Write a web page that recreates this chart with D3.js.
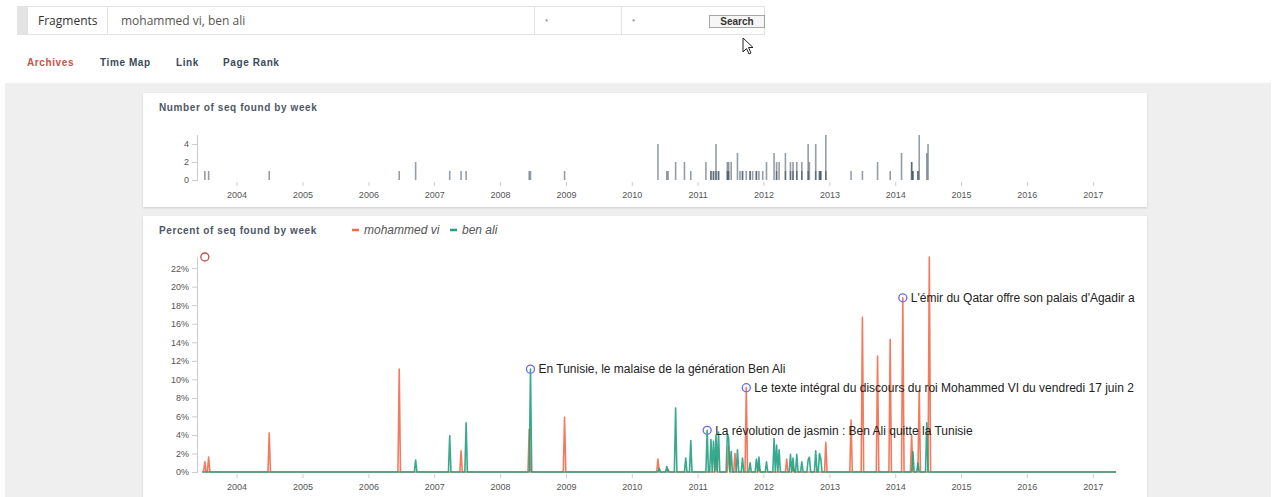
<!DOCTYPE html>
<html>
<head>
<meta charset="utf-8">
<script src="https://cdn.jsdelivr.net/npm/d3@7"></script>
<style>
  html, body { margin: 0; padding: 0; background: #fff; }
  svg { display: block; font-family: "Liberation Sans", Arial, sans-serif; }
  .axis text { fill: #555; font-size: 9px; }
  .axis line { stroke: #ccc; }
  .axis path { stroke: #ccc; }
  .title { font-size: 10px; font-weight: bold; fill: #4d5766; letter-spacing: 0.6px; }
  .tab { font-size: 10px; font-weight: bold; letter-spacing: 0.6px; fill: #3b4a5a; }
</style>
</head>
<body>
<svg id="page" width="1276" height="497"></svg>
<script>
// weekly counts of matching sequences, one list per search term
const countMohammed = [
  ["2003-07-10",1],["2003-07-29",1],["2004-07-01",1],["2006-06-23",1],["2007-05-31",1],
  ["2008-06-08",1],["2008-12-24",1],["2010-05-26",4],["2010-07-20",1],["2011-03-18",1],
  ["2011-03-31",1],["2011-04-13",1],["2011-04-26",1],["2011-06-13",1],["2011-06-24",1],
  ["2011-09-09",1],["2011-09-28",1],["2011-10-16",1],["2011-11-22",1],["2012-03-16",1],
  ["2012-05-01",3],["2012-05-29",1],["2012-06-12",1],["2012-07-01",1],["2012-07-29",1],
  ["2012-09-04",1],["2012-10-20",1],["2012-11-04",1],["2012-11-17",1],["2012-12-11",5],
  ["2013-05-03",1],["2013-07-06",1],["2013-09-27",2],["2013-12-07",1],["2014-02-08",3],
  ["2014-04-04",2],["2014-04-11",1],["2014-05-04",1],["2014-05-16",5],["2014-07-05",4]
];
const countBenAli = [
  ["2006-09-18",2],["2007-03-31",1],["2007-06-28",1],["2008-06-19",1],["2010-07-11",1],
  ["2010-08-30",2],["2010-10-21",2],["2010-11-27",1],["2011-02-18",2],["2011-03-18",1],
  ["2011-03-31",1],["2011-04-13",4],["2011-04-26",1],["2011-06-13",2],["2011-06-24",2],
  ["2011-07-07",2],["2011-08-07",3],["2011-08-22",1],["2011-09-09",1],["2011-10-16",1],
  ["2011-11-03",1],["2011-11-22",1],["2011-12-10",1],["2011-12-28",1],["2012-01-16",2],
  ["2012-03-03",3],["2012-03-16",2],["2012-03-31",2],["2012-05-01",1],["2012-05-29",2],
  ["2012-06-12",2],["2012-07-01",2],["2012-07-29",2],["2012-09-04",4],["2012-09-13",2],
  ["2012-10-20",4],["2012-11-04",1],["2012-11-17",1],["2012-12-11",1],["2014-04-04",2],
  ["2014-04-11",1],["2014-05-04",1],["2014-06-28",3]
];

// weekly percent of sequences (weeks not listed are 0)
const pctMohammed = [
  ["2003-07-10",1.1],["2003-07-29",1.6],["2004-07-01",4.2],["2006-06-23",11.1],["2007-05-31",2.3],
  ["2008-06-08",4.6],["2008-12-24",5.9],["2010-05-26",1.4],["2010-07-20",0.3],["2011-04-13",1.6],
  ["2011-06-24",2.8],["2011-07-30",2.0],["2011-09-30",9.1],["2011-12-10",0.6],["2012-05-09",1.4],
  ["2012-06-12",0.5],["2012-12-11",3.2],["2013-05-03",5.6],["2013-07-06",16.7],["2013-09-27",12.5],
  ["2013-12-07",14.3],["2014-02-10",18.8],["2014-04-04",4.0],["2014-05-16",8.8],["2014-07-12",23.2]
];
const pctBenAli = [
  ["2006-09-18",1.3],["2007-03-31",3.9],["2007-06-28",5.3],["2008-06-19",11.1],["2010-06-03",0.4],
  ["2010-07-11",0.6],["2010-08-30",6.9],["2010-10-24",1.5],["2010-11-27",3.4],["2011-02-23",4.5],
  ["2011-03-16",3.5],["2011-03-31",3.3],["2011-04-13",4.0],["2011-04-26",4.3],["2011-06-13",4.1],
  ["2011-06-24",3.7],["2011-07-07",2.2],["2011-08-07",2.4],["2011-09-09",1.5],["2011-10-16",1.0],
  ["2011-11-22",1.4],["2011-12-10",1.6],["2012-01-16",1.1],["2012-03-03",3.6],["2012-03-16",2.9],
  ["2012-03-31",2.4],["2012-05-29",1.9],["2012-06-12",1.5],["2012-07-01",1.9],["2012-07-29",1.1],
  ["2012-09-04",1.3],["2012-09-13",1.6],["2012-10-20",2.3],["2012-11-04",2.0],["2012-11-17",1.5],
  ["2014-04-11",2.2],["2014-05-04",1.0],["2014-06-28",5.3]
];

// articles pinned on the percent chart: date, series, label
const annotations = [
  ["2008-06-19", "ba", "En Tunisie, le malaise de la génération Ben Ali"],
  ["2011-02-23", "ba", "La révolution de jasmin : Ben Ali quitte la Tunisie"],
  ["2011-09-30", "mv", "Le texte intégral du discours du roi Mohammed VI du vendredi 17 juin 2"],
  ["2014-02-10", "mv", "L'émir du Qatar offre son palais d'Agadir a"]
];

const seriesNames = ["mohammed vi", "ben ali"];
const countTicks = [0, 2, 4];
const pctTicks = [0, 2, 4, 6, 8, 10, 12, 14, 16, 18, 20, 22];
const tabs = ["Archives", "Time Map", "Link", "Page Rank"];

const colors = { mv: "#f26b4b", ba: "#21a07f" };
const parse = d3.timeParse("%Y-%m-%d");

// a date is drawn at the middle of its week
const weekMid = d => d3.timeDay.offset(d3.timeWeek.floor(d), 3);

const svg = d3.select('#page');

// ---------------------------------------------------------------------------
// Search form + tabs
// ---------------------------------------------------------------------------
svg.append('rect').attr('x', 17).attr('y', 6).attr('width', 11).attr('height', 29).attr('fill', '#e4e4e4');
svg.append('rect').attr('x', 27.5).attr('y', 6.5).attr('width', 737).attr('height', 28)
    .attr('fill', '#fff').attr('stroke', '#e2e2e2');
[107.5, 534.5, 621.5].forEach(x => {
    svg.append('line').attr('x1', x).attr('x2', x).attr('y1', 7).attr('y2', 34).attr('stroke', '#e2e2e2');
});
svg.append('text').attr('x', 38).attr('y', 25).attr('font-size', 12)
    .attr('font-family', '"Open Sans", sans-serif').attr('fill', '#333').text('Fragments');
svg.append('text').attr('x', 121).attr('y', 25).attr('font-size', 12)
    .attr('font-family', '"Open Sans", sans-serif').attr('fill', '#555').text('mohammed vi, ben ali');
[545, 632].forEach(x => {
    svg.append('text').attr('x', x).attr('y', 24).attr('font-size', 8).attr('fill', '#777').text('*');
});
svg.append('rect').attr('x', 709.5).attr('y', 15.5).attr('width', 55).attr('height', 12)
    .attr('fill', '#f6f6f6').attr('stroke', '#555').attr('stroke-dasharray', '1,1');
svg.append('text').attr('x', 737).attr('y', 25).attr('text-anchor', 'middle').attr('font-size', 10)
    .attr('font-weight', 'bold').attr('fill', '#333').text('Search');

// mouse pointer
svg.append('path')
    .attr('d', 'M743,38 L743,52 L746.5,48.5 L749,54 L751,53 L748.5,47.5 L753,47.5 Z')
    .attr('fill', '#fff').attr('stroke', '#222').attr('stroke-width', 1);

const tabX = [27, 100, 176, 223];
svg.selectAll('.tab').data(tabs).enter().append('text')
    .attr('class', 'tab')
    .attr('x', (d, i) => tabX[i])
    .attr('y', 66)
    .style('fill', (d, i) => i == 0 ? '#c4554a' : null)
    .text(d => d);

// grey background + panels
svg.append('rect').attr('x', 5).attr('y', 83).attr('width', 1266).attr('height', 420).attr('fill', '#efefef');

const defs = svg.append('defs');
const shadow = defs.append('filter').attr('id', 'shadow').attr('x', '-2%').attr('y', '-5%')
    .attr('width', '104%').attr('height', '115%');
shadow.append('feDropShadow').attr('dx', 0).attr('dy', 1).attr('stdDeviation', 1)
    .attr('flood-color', '#000').attr('flood-opacity', 0.15);

svg.append('rect').attr('x', 143).attr('y', 93).attr('width', 1004).attr('height', 114)
    .attr('fill', '#fff').attr('filter', 'url(#shadow)');
svg.append('rect').attr('x', 143).attr('y', 216).attr('width', 1004).attr('height', 300)
    .attr('fill', '#fff').attr('filter', 'url(#shadow)');

// ---------------------------------------------------------------------------
// Scales
// ---------------------------------------------------------------------------
const x = d3.scaleTime()
    .domain([parse("2003-06-01"), parse("2017-05-15")])
    .range([198, 1117]);

const yCount = d3.scaleLinear().domain([0, 5]).range([180, 135]);
const yPct = d3.scaleLinear().domain([0, 23.2]).range([472, 257]);

function drawXAxis(yPos) {
    const xAxis = d3.axisBottom(x)
        .tickValues(d3.timeYear.range(parse("2004-01-01"), parse("2017-06-01")))
        .tickFormat(d3.timeFormat('%Y'))
        .tickSize(4);
    const gx = svg.append('g').attr('class', 'axis').attr('transform', `translate(0,${yPos})`).call(xAxis);
    gx.select('.domain').remove();
    gx.selectAll('text').attr('dy', '1.05em');
}

// ---------------------------------------------------------------------------
// Chart 1: number of seq found by week
// ---------------------------------------------------------------------------
svg.append('text').attr('class', 'title').attr('x', 159).attr('y', 111).text('Number of seq found by week');

const gy1 = svg.append('g').attr('class', 'axis').attr('transform', 'translate(198,0)')
    .call(d3.axisLeft(yCount).tickValues(countTicks).tickFormat(d3.format('d')).tickSize(6).tickPadding(3));
gy1.select('.domain').attr('d', `M-0.5,${yCount(5)}V${yCount(0)}`);

drawXAxis(182);

[countMohammed, countBenAli].forEach(series => {
    svg.append('g').selectAll('rect').data(series).enter().append('rect')
        .attr('x', d => x(weekMid(parse(d[0]))) - 0.8)
        .attr('y', d => yCount(d[1]))
        .attr('width', 1.6)
        .attr('height', d => yCount(0) - yCount(d[1]))
        .attr('fill', '#2c3e50')
        .attr('fill-opacity', 0.5);
});

// ---------------------------------------------------------------------------
// Chart 2: percent of seq found by week
// ---------------------------------------------------------------------------
svg.append('text').attr('class', 'title').attr('x', 159).attr('y', 234).text('Percent of seq found by week');

const legend = svg.append('g');
[[352, 'mv'], [450, 'ba']].forEach(([lx, key], i) => {
    legend.append('line').attr('x1', lx).attr('x2', lx + 7).attr('y1', 230).attr('y2', 230)
        .attr('stroke', colors[key]).attr('stroke-width', 2.5);
    legend.append('text').attr('x', lx + 12).attr('y', 234).attr('font-size', 12)
        .attr('font-style', 'italic').attr('fill', '#555').text(seriesNames[i]);
});

const gy2 = svg.append('g').attr('class', 'axis').attr('transform', 'translate(198,0)')
    .call(d3.axisLeft(yPct).tickValues(pctTicks).tickFormat(d => d + '%').tickSize(6).tickPadding(3));
gy2.select('.domain').attr('d', `M-0.5,${yPct(23.2)}V${yPct(0)}`);

drawXAxis(474);

// full weekly series: weeks with no match are 0
const weeks = d3.timeWeek.range(parse("2003-06-22"), parse("2017-05-14")).map(w => d3.timeDay.offset(w, 3));
function weekly(pairs) {
    const m = new Map();
    pairs.forEach(([d, v]) => {
        const k = +weekMid(parse(d));
        m.set(k, Math.max(m.get(k) || 0, v));
    });
    return weeks.map(w => [w, m.get(+w) || 0]);
}

const line = d3.line().x(d => x(d[0])).y(d => yPct(d[1]));

[['mv', pctMohammed], ['ba', pctBenAli]].forEach(([key, pairs]) => {
    svg.append('path')
        .datum(weekly(pairs))
        .attr('d', line)
        .attr('fill', 'none')
        .attr('stroke', colors[key])
        .attr('stroke-width', 1.6)
        .attr('stroke-opacity', 0.9)
        .attr('stroke-linejoin', 'round');
});

// hover marker on the series maximum
svg.append('circle')
    .attr('cx', x(weekMid(parse(pctMohammed[0][0]))))
    .attr('cy', yPct(d3.max(pctMohammed, d => d[1])))
    .attr('r', 4)
    .attr('fill', 'none')
    .attr('stroke', '#c0504d')
    .attr('stroke-width', 1.3);

// annotations
defs.append('clipPath').attr('id', 'clip').append('rect')
    .attr('x', 143).attr('y', 216).attr('width', 992).attr('height', 281);

const lookup = { mv: pctMohammed, ba: pctBenAli };
const ann = svg.append('g').attr('clip-path', 'url(#clip)')
    .selectAll('g').data(annotations).enter().append('g')
    .attr('transform', d => {
        const v = lookup[d[1]].find(p => p[0] == d[0])[1];
        return `translate(${x(weekMid(parse(d[0])))},${yPct(v)})`;
    });
ann.append('circle').attr('r', 4).attr('fill', 'none').attr('stroke', '#6b6be8').attr('stroke-width', 1.3);
ann.append('text').attr('x', 8).attr('dy', '0.35em').attr('font-size', 12).attr('fill', '#222').text(d => d[2]);
</script>
</body>
</html>
